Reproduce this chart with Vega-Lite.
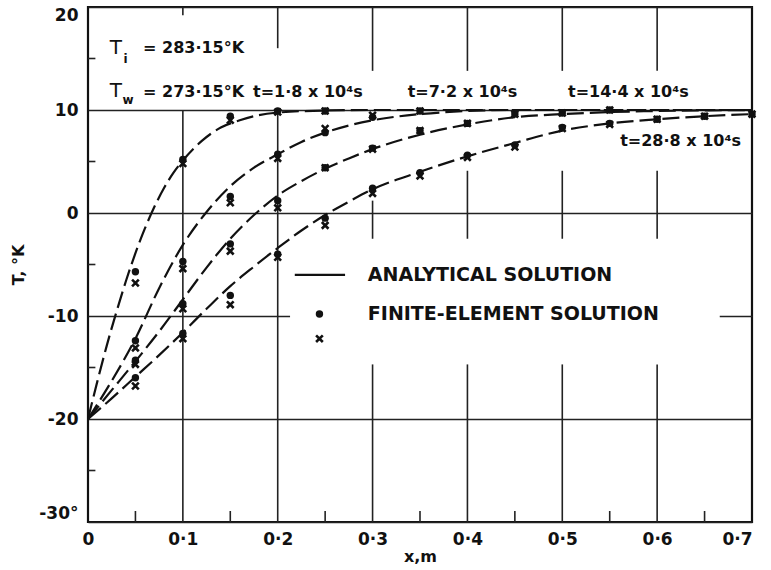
{
  "$schema": "https://vega.github.io/schema/vega-lite/v6.json",
  "width": 664,
  "height": 515,
  "autosize": "none",
  "padding": {"left": 88, "top": 7, "right": 19, "bottom": 48},
  "background": "white",
  "config": {
    "view": {"stroke": "#111", "strokeWidth": 2.2},
    "font": "DejaVu Sans",
    "text": {"font": "DejaVu Sans", "fill": "#111"}
  },
  "datasets": {
    "mask": [{"x": 0.213, "x2": 0.666, "T": -2.5, "T2": -14.7}],
    "gridv": [
      {"x": 0.1, "T": 20, "T2": 19.2}, {"x": 0.1, "T": 10, "T2": -30},
      {"x": 0.2, "T": 20, "T2": 16.0}, {"x": 0.2, "T": 10, "T2": -30},
      {"x": 0.3, "T": 20, "T2": 13.8}, {"x": 0.3, "T": 1.2, "T2": -2.5}, {"x": 0.3, "T": -14.7, "T2": -30},
      {"x": 0.4, "T": 20, "T2": 13.8}, {"x": 0.4, "T": 4.1, "T2": -2.5}, {"x": 0.4, "T": -14.7, "T2": -30},
      {"x": 0.5, "T": 20, "T2": 13.8}, {"x": 0.5, "T": 4.1, "T2": -2.5}, {"x": 0.5, "T": -14.7, "T2": -30},
      {"x": 0.6, "T": 20, "T2": 13.8}, {"x": 0.6, "T": 4.1, "T2": -2.5}, {"x": 0.6, "T": -14.7, "T2": -30}
    ],
    "minorx": [{"x": 0.05}, {"x": 0.15}, {"x": 0.25}, {"x": 0.35}, {"x": 0.45}, {"x": 0.55}, {"x": 0.65}],
    "minory": [{"T": 15}, {"T": 5}, {"T": -5}, {"T": -15}, {"T": -25}],
    "analytic": [
      {"s": "t1", "x": 0, "T": -20}, {"s": "t1", "x": 0.01, "T": -16.3}, {"s": "t1", "x": 0.02, "T": -12.8},
      {"s": "t1", "x": 0.03, "T": -9.6}, {"s": "t1", "x": 0.04, "T": -6.6}, {"s": "t1", "x": 0.05, "T": -3.9},
      {"s": "t1", "x": 0.06, "T": -1.5}, {"s": "t1", "x": 0.07, "T": 0.6}, {"s": "t1", "x": 0.08, "T": 2.4},
      {"s": "t1", "x": 0.09, "T": 3.9}, {"s": "t1", "x": 0.1, "T": 5.1}, {"s": "t1", "x": 0.12, "T": 7.0},
      {"s": "t1", "x": 0.14, "T": 8.3}, {"s": "t1", "x": 0.16, "T": 9.0}, {"s": "t1", "x": 0.18, "T": 9.5},
      {"s": "t1", "x": 0.2, "T": 9.75}, {"s": "t1", "x": 0.25, "T": 9.95}, {"s": "t1", "x": 0.3, "T": 10}, {"s": "t1", "x": 0.7, "T": 10},
      {"s": "t2", "x": 0, "T": -20}, {"s": "t2", "x": 0.025, "T": -16.3}, {"s": "t2", "x": 0.05, "T": -12.2},
      {"s": "t2", "x": 0.075, "T": -7.3}, {"s": "t2", "x": 0.1, "T": -3.1}, {"s": "t2", "x": 0.125, "T": 0.1},
      {"s": "t2", "x": 0.15, "T": 2.6}, {"s": "t2", "x": 0.175, "T": 4.4}, {"s": "t2", "x": 0.2, "T": 5.7},
      {"s": "t2", "x": 0.225, "T": 6.9}, {"s": "t2", "x": 0.25, "T": 7.8}, {"s": "t2", "x": 0.275, "T": 8.5},
      {"s": "t2", "x": 0.3, "T": 9.0}, {"s": "t2", "x": 0.35, "T": 9.6}, {"s": "t2", "x": 0.4, "T": 9.9},
      {"s": "t2", "x": 0.45, "T": 10}, {"s": "t2", "x": 0.7, "T": 10},
      {"s": "t3", "x": 0, "T": -20}, {"s": "t3", "x": 0.025, "T": -17.2}, {"s": "t3", "x": 0.05, "T": -14.4},
      {"s": "t3", "x": 0.075, "T": -11.5}, {"s": "t3", "x": 0.1, "T": -8.4}, {"s": "t3", "x": 0.125, "T": -5.3},
      {"s": "t3", "x": 0.15, "T": -2.5}, {"s": "t3", "x": 0.175, "T": -0.2}, {"s": "t3", "x": 0.2, "T": 1.7},
      {"s": "t3", "x": 0.225, "T": 3.1}, {"s": "t3", "x": 0.25, "T": 4.3}, {"s": "t3", "x": 0.275, "T": 5.3},
      {"s": "t3", "x": 0.3, "T": 6.2}, {"s": "t3", "x": 0.35, "T": 7.6}, {"s": "t3", "x": 0.4, "T": 8.6},
      {"s": "t3", "x": 0.45, "T": 9.3}, {"s": "t3", "x": 0.5, "T": 9.6}, {"s": "t3", "x": 0.55, "T": 9.8},
      {"s": "t3", "x": 0.6, "T": 9.9}, {"s": "t3", "x": 0.7, "T": 10},
      {"s": "t4", "x": 0, "T": -20}, {"s": "t4", "x": 0.025, "T": -18.0}, {"s": "t4", "x": 0.05, "T": -15.9},
      {"s": "t4", "x": 0.075, "T": -13.8}, {"s": "t4", "x": 0.1, "T": -11.6}, {"s": "t4", "x": 0.125, "T": -9.3},
      {"s": "t4", "x": 0.15, "T": -7.1}, {"s": "t4", "x": 0.175, "T": -5.2}, {"s": "t4", "x": 0.2, "T": -3.4},
      {"s": "t4", "x": 0.225, "T": -1.7}, {"s": "t4", "x": 0.25, "T": -0.2}, {"s": "t4", "x": 0.275, "T": 1.1},
      {"s": "t4", "x": 0.3, "T": 2.3}, {"s": "t4", "x": 0.35, "T": 4.0}, {"s": "t4", "x": 0.4, "T": 5.5},
      {"s": "t4", "x": 0.45, "T": 6.8}, {"s": "t4", "x": 0.5, "T": 8.0}, {"s": "t4", "x": 0.55, "T": 8.7},
      {"s": "t4", "x": 0.6, "T": 9.1}, {"s": "t4", "x": 0.65, "T": 9.4}, {"s": "t4", "x": 0.7, "T": 9.6}
    ],
    "fe": [
      {"s": "t1", "x": 0.05, "dot": -5.7, "cross": -6.8},
      {"s": "t1", "x": 0.1, "dot": 5.2, "cross": 4.8},
      {"s": "t1", "x": 0.15, "dot": 9.4, "cross": 9.0},
      {"s": "t1", "x": 0.2, "dot": 9.9, "cross": 9.8},
      {"s": "t1", "x": 0.25, "dot": 9.9, "cross": 9.9},
      {"s": "t2", "x": 0.05, "dot": -12.4, "cross": -13.1},
      {"s": "t2", "x": 0.1, "dot": -4.7, "cross": -5.4},
      {"s": "t2", "x": 0.15, "dot": 1.6, "cross": 1.0},
      {"s": "t2", "x": 0.2, "dot": 5.7, "cross": 5.3},
      {"s": "t2", "x": 0.25, "dot": 7.8, "cross": 8.2},
      {"s": "t2", "x": 0.3, "dot": 9.3, "cross": 9.5},
      {"s": "t2", "x": 0.35, "dot": 9.9, "cross": 9.9},
      {"s": "t3", "x": 0.05, "dot": -14.3, "cross": -14.7},
      {"s": "t3", "x": 0.1, "dot": -8.8, "cross": -9.3},
      {"s": "t3", "x": 0.15, "dot": -3.0, "cross": -3.7},
      {"s": "t3", "x": 0.2, "dot": 1.2, "cross": 0.5},
      {"s": "t3", "x": 0.25, "dot": 4.4, "cross": 4.4},
      {"s": "t3", "x": 0.3, "dot": 6.3, "cross": 6.2},
      {"s": "t3", "x": 0.35, "dot": 8.0, "cross": 8.0},
      {"s": "t3", "x": 0.4, "dot": 8.7, "cross": 8.7},
      {"s": "t3", "x": 0.45, "dot": 9.6, "cross": 9.6},
      {"s": "t3", "x": 0.5, "dot": 9.7, "cross": 9.7},
      {"s": "t3", "x": 0.55, "dot": 10.0, "cross": 10.0},
      {"s": "t4", "x": 0.05, "dot": -16.0, "cross": -16.8},
      {"s": "t4", "x": 0.1, "dot": -11.7, "cross": -12.2},
      {"s": "t4", "x": 0.15, "dot": -8.0, "cross": -8.9},
      {"s": "t4", "x": 0.2, "dot": -4.0, "cross": -4.3},
      {"s": "t4", "x": 0.25, "dot": -0.5, "cross": -1.2},
      {"s": "t4", "x": 0.3, "dot": 2.4, "cross": 1.9},
      {"s": "t4", "x": 0.35, "dot": 3.9, "cross": 3.6},
      {"s": "t4", "x": 0.4, "dot": 5.6, "cross": 5.4},
      {"s": "t4", "x": 0.45, "dot": 6.6, "cross": 6.4},
      {"s": "t4", "x": 0.5, "dot": 8.3, "cross": 8.2},
      {"s": "t4", "x": 0.55, "dot": 8.7, "cross": 8.6},
      {"s": "t4", "x": 0.6, "dot": 9.1, "cross": 9.1},
      {"s": "t4", "x": 0.65, "dot": 9.4, "cross": 9.4},
      {"s": "t4", "x": 0.7, "dot": 9.6, "cross": 9.6}
    ],
    "bigT": [
      {"x": 0.023, "T": 16.0, "label": "T"},
      {"x": 0.023, "T": 11.8, "label": "T"}
    ],
    "notes": [
      {"x": 0.058, "T": 16.0, "label": "= 283·15°K"},
      {"x": 0.058, "T": 11.7, "label": "= 273·15°K"},
      {"x": 0.174, "T": 11.7, "label": "t=1·8 x 10⁴s"},
      {"x": 0.337, "T": 11.7, "label": "t=7·2 x 10⁴s"},
      {"x": 0.506, "T": 11.7, "label": "t=14·4 x 10⁴s"},
      {"x": 0.561, "T": 7.0, "label": "t=28·8 x 10⁴s"}
    ],
    "subs": [
      {"x": 0.0375, "T": 15.0, "label": "i"},
      {"x": 0.0365, "T": 11.0, "label": "w"}
    ],
    "legendtext": [
      {"x": 0.295, "T": -6.0, "label": "ANALYTICAL SOLUTION"},
      {"x": 0.295, "T": -9.8, "label": "FINITE-ELEMENT SOLUTION"}
    ]
  },
  "layer": [
    {
      "data": {"name": "mask"},
      "mark": {"type": "rect", "fill": "white", "stroke": null},
      "encoding": {
        "x": {
          "field": "x", "type": "quantitative",
          "scale": {"domain": [0, 0.7], "nice": false, "zero": false},
          "axis": {
            "title": "x,m", "values": [0, 0.1, 0.2, 0.3, 0.4, 0.5, 0.6, 0.7],
            "grid": false, "domain": false, "ticks": false,
            "labelExpr": "datum.value == 0 ? '0' : replace(format(datum.value, '.1f'), '.', '·')",
            "labelAlign": {"condition": {"test": "datum.value > 0.65", "value": "right"}, "value": "center"},
            "labelFont": "DejaVu Sans", "labelFontSize": 17, "labelFontWeight": "bold", "labelColor": "#111",
            "labelPadding": 9, "labelFlush": false, "labelOverlap": false,
            "titleFont": "DejaVu Sans", "titleFontSize": 16, "titleFontWeight": "bold", "titleColor": "#111",
            "titlePadding": 1, "zindex": 0
          }
        },
        "x2": {"field": "x2"},
        "y": {
          "field": "T", "type": "quantitative",
          "scale": {"domain": [-30, 20], "nice": false, "zero": false},
          "axis": {
            "title": "T, °K", "values": [-30, -20, -10, 0, 10, 20],
            "grid": true, "gridColor": "#222", "gridWidth": 1.6, "gridOpacity": 1,
            "domain": false, "ticks": false,
            "labelExpr": "datum.value == -30 ? '-30°' : (datum.value < 0 ? '-' + abs(datum.value) : '' + datum.value)",
            "labelFont": "DejaVu Sans", "labelFontSize": 17, "labelFontWeight": "bold", "labelColor": "#111",
            "labelPadding": 10, "labelFlush": true, "labelFlushOffset": 0, "labelOverlap": false,
            "titleFont": "DejaVu Sans", "titleFontSize": 16, "titleFontWeight": "bold", "titleColor": "#111",
            "titlePadding": 12, "zindex": 0
          }
        },
        "y2": {"field": "T2"}
      }
    },
    {
      "data": {"name": "gridv"},
      "mark": {"type": "rule", "color": "#222", "strokeWidth": 1.6},
      "encoding": {
        "x": {"field": "x", "type": "quantitative"},
        "y": {"field": "T", "type": "quantitative"},
        "y2": {"field": "T2"}
      }
    },
    {
      "data": {"name": "minorx"},
      "mark": {"type": "rule", "color": "#222", "strokeWidth": 1.6},
      "encoding": {
        "x": {"field": "x", "type": "quantitative"},
        "y": {"datum": -30},
        "y2": {"datum": -28.93}
      }
    },
    {
      "data": {"name": "minory"},
      "mark": {"type": "rule", "color": "#222", "strokeWidth": 1.6},
      "encoding": {
        "y": {"field": "T", "type": "quantitative"},
        "x": {"datum": 0},
        "x2": {"datum": 0.0078}
      }
    },
    {
      "data": {"name": "analytic"},
      "mark": {"type": "line", "color": "#111", "strokeWidth": 2.2, "strokeDash": [17, 6], "interpolate": "monotone"},
      "encoding": {
        "x": {"field": "x", "type": "quantitative"},
        "y": {"field": "T", "type": "quantitative"},
        "detail": {"field": "s"}
      }
    },
    {
      "data": {"name": "fe"},
      "mark": {"type": "point", "shape": "circle", "filled": true, "color": "#111", "size": 55, "opacity": 1},
      "encoding": {
        "x": {"field": "x", "type": "quantitative"},
        "y": {"field": "dot", "type": "quantitative"}
      }
    },
    {
      "data": {"name": "fe"},
      "mark": {"type": "point", "shape": "M-1,-1L1,1M1,-1L-1,1", "filled": false, "color": "#111", "strokeWidth": 2.6, "size": 45, "opacity": 1},
      "encoding": {
        "x": {"field": "x", "type": "quantitative"},
        "y": {"field": "cross", "type": "quantitative"}
      }
    },
    {
      "data": {"name": "bigT"},
      "mark": {"type": "text", "align": "left", "baseline": "middle", "fontSize": 20, "font": "DejaVu Sans", "fill": "#111"},
      "encoding": {
        "x": {"field": "x", "type": "quantitative"},
        "y": {"field": "T", "type": "quantitative"},
        "text": {"field": "label"}
      }
    },
    {
      "data": {"name": "notes"},
      "mark": {"type": "text", "align": "left", "baseline": "middle", "fontSize": 16, "fontWeight": "bold", "font": "DejaVu Sans", "fill": "#111"},
      "encoding": {
        "x": {"field": "x", "type": "quantitative"},
        "y": {"field": "T", "type": "quantitative"},
        "text": {"field": "label"}
      }
    },
    {
      "data": {"name": "subs"},
      "mark": {"type": "text", "align": "left", "baseline": "middle", "fontSize": 12, "fontWeight": "bold", "font": "DejaVu Sans", "fill": "#111"},
      "encoding": {
        "x": {"field": "x", "type": "quantitative"},
        "y": {"field": "T", "type": "quantitative"},
        "text": {"field": "label"}
      }
    },
    {
      "data": {"name": "legendtext"},
      "mark": {"type": "text", "align": "left", "baseline": "middle", "fontSize": 19, "fontWeight": "bold", "font": "DejaVu Sans", "fill": "#111"},
      "encoding": {
        "x": {"field": "x", "type": "quantitative"},
        "y": {"field": "T", "type": "quantitative"},
        "text": {"field": "label"}
      }
    },
    {
      "data": {"values": [{}]},
      "mark": {"type": "rule", "color": "#111", "strokeWidth": 2.2},
      "encoding": {
        "x": {"datum": 0.218},
        "x2": {"datum": 0.271},
        "y": {"datum": -6.0}
      }
    },
    {
      "data": {"values": [{}]},
      "mark": {"type": "point", "shape": "circle", "filled": true, "color": "#111", "size": 55, "opacity": 1},
      "encoding": {
        "x": {"datum": 0.244},
        "y": {"datum": -9.8}
      }
    },
    {
      "data": {"values": [{}]},
      "mark": {"type": "point", "shape": "M-1,-1L1,1M1,-1L-1,1", "filled": false, "color": "#111", "strokeWidth": 2.6, "size": 45, "opacity": 1},
      "encoding": {
        "x": {"datum": 0.244},
        "y": {"datum": -12.2}
      }
    }
  ]
}
